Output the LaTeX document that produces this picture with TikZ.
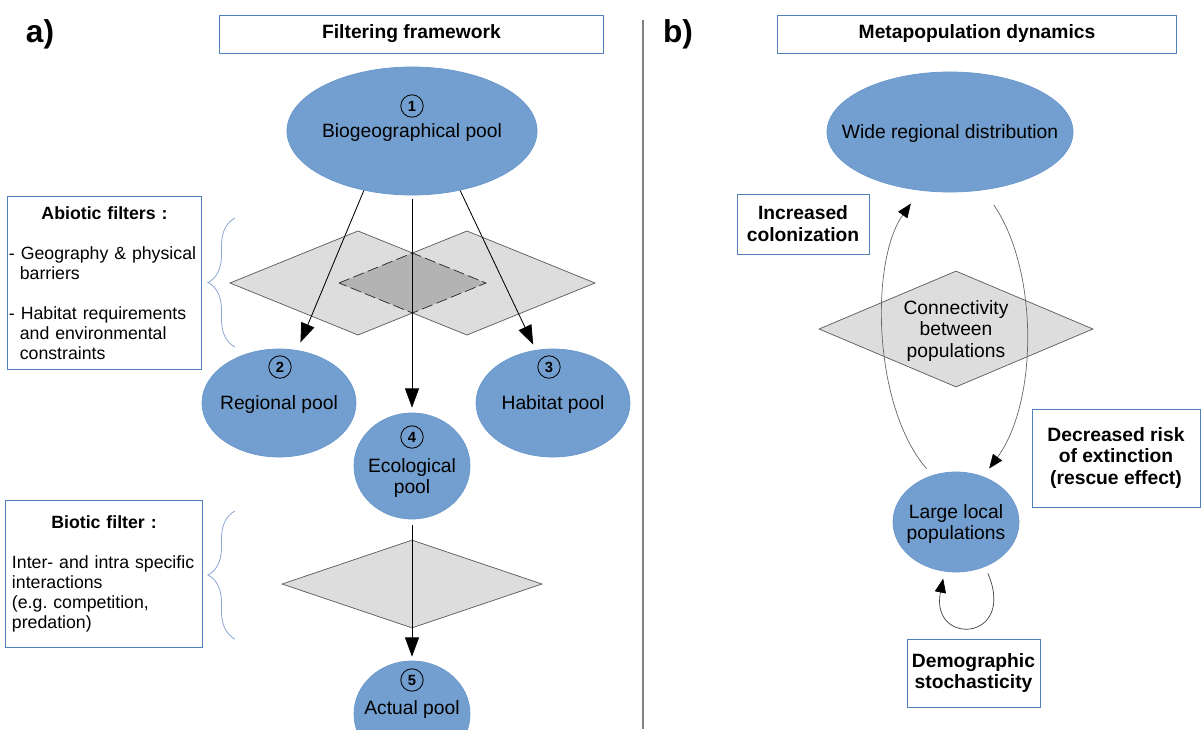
\documentclass[tikz,border=0pt]{standalone}
\usepackage{fontspec}
\setmainfont{Liberation Sans}
\usetikzlibrary{shapes.geometric,arrows.meta,decorations.pathreplacing,positioning}
\definecolor{poolblue}{HTML}{729FCF}
\definecolor{poolline}{HTML}{6A98CC}
\definecolor{boxblue}{HTML}{4F81BD}
\definecolor{filtgray}{HTML}{DDDDDD}
\definecolor{overgray}{HTML}{B3B3B3}
\definecolor{bracecol}{HTML}{8EA9D3}
\begin{document}
\begin{tikzpicture}[x=0.025cm,y=-0.025cm,>={Triangle[length=4.8mm,width=3.5mm]},
  pool/.style={ellipse,fill=poolblue,draw=poolline,line width=0.5pt,inner sep=0pt},
  num/.style={circle,draw,line width=0.6pt,inner sep=0pt,minimum size=0.56cm,font=\fontsize{10.5}{11}\selectfont\bfseries},
  txt/.style={align=center,inner sep=0pt,yshift=-0.05cm,font=\fontsize{13.7}{15.6}\selectfont},
  ttl/.style={draw=boxblue,line width=0.7pt,minimum height=0.95cm,inner sep=0pt,font=\fontsize{13.7}{15.6}\selectfont\bfseries},
  keybox/.style={draw=boxblue,line width=0.7pt,align=center,inner sep=0pt,font=\fontsize{13.7}{15.6}\selectfont\bfseries},
  infobox/.style={draw=boxblue,line width=0.7pt,align=left,inner ysep=0pt,font=\fontsize{12.6}{14.2}\selectfont},
  filt/.style={diamond,fill=filtgray,draw=black!65,line width=0.5pt,inner sep=0pt},
  bracket/.style={draw=bracecol,line width=0.6pt,decorate,decoration={brace,amplitude=0.675cm}},
  link/.style={black!60,line width=0.5pt,-{Triangle[length=3.5mm,width=2.8mm,color=black]}}]
\useasboundingbox (0,0) rectangle (1201,729);
\clip (0,0) rectangle (1201,729);

% panel a
\node[font=\fontsize{22.5}{24}\selectfont\bfseries] (pa) at (40,34) {a)};
\node[ttl,minimum width=9.575cm] (ttla) at (411.5,34) {Filtering framework};

\fill[filtgray] (230,283) -- (358,231) -- (486,283) -- (358,335) -- cycle;
\fill[filtgray] (339,283) -- (467,231) -- (595,283) -- (467,335) -- cycle;
\fill[overgray] (339,283) -- (412.5,253) -- (486,283) -- (412.5,313) -- cycle;
\draw[black!65,line width=0.5pt] (412.5,253) -- (358,231) -- (230,283) -- (358,335) -- (412.5,313)
  -- (467,335) -- (595,283) -- (467,231) -- cycle;
\draw[black!85,line width=0.5pt,dash pattern=on 8pt off 3pt] (339,283) -- (412.5,253) -- (486,283) -- (412.5,313) -- cycle;
\node[filt,minimum width=6.5cm,minimum height=2.2cm] (biof) at (412,584) {};

\node[pool,minimum width=6.25cm,minimum height=3.2cm] (bio) at (412,131) {};
\node[txt] (bio-t) at (bio) {Biogeographical pool};
\node[num] (n1) at (412,106) {1};
\node[pool,minimum width=3.85cm,minimum height=2.7cm] (reg) at (279,403) {};
\node[txt] (reg-t) at (reg) {Regional pool};
\node[num] (n2) at (280,367) {2};
\node[pool,minimum width=3.85cm,minimum height=2.7cm] (hab) at (553,403) {};
\node[txt] (hab-t) at (hab) {Habitat pool};
\node[num] (n3) at (549,367) {3};
\node[pool,minimum width=2.9cm,minimum height=2.65cm] (eco) at (412,466) {};
\node[txt] (eco-t) at (412,476) {Ecological\\pool};
\node[num] (n4) at (412,437) {4};
\node[pool,minimum width=2.9cm,minimum height=2.65cm] (act) at (412,714) {};
\node[txt] (act-t) at (412,708) {Actual pool};
\node[num] (n5) at (412,680) {5};

\draw[->,line width=0.6pt,shorten >=0.21cm] (bio.231) -- (reg.71);
\draw[->,line width=0.6pt,shorten >=0.15cm] (bio.309) -- (hab.108);
\draw[->,line width=0.6pt,shorten <=0.1cm,shorten >=0.125cm] (bio) -- (eco);
\draw[->,line width=0.6pt,shorten <=0.15cm,shorten >=0.1cm] (eco) -- (act);

\node[infobox,text width=4.775cm,inner xsep=0.025cm,minimum height=4.3cm] (abio) at (104.5,283)
  {{\centering\bfseries Abiotic filters :\par}\vspace{14.2pt}
   - Geography \& physical\\\hspace*{0.611em}barriers\par\vspace{14.2pt}
   - Habitat requirements\\\hspace*{0.611em}and environmental\\\hspace*{0.611em}constraints};
\node[infobox,text width=4.6cm,inner xsep=0.15cm,minimum height=3.65cm] (biot) at (104,574)
  {{\centering\bfseries Biotic filter :\par}\vspace{14.2pt}
   Inter- and intra specific\\interactions\\(e.g.\ competition,\\predation)};
\draw[bracket] (235,347) -- (235,218);
\draw[bracket] (235,639) -- (235,511);

\draw[gray,line width=1pt] (643,20) -- (643,729);

% panel b
\node[font=\fontsize{22.5}{24}\selectfont\bfseries] (pb) at (678,34) {b)};
\node[ttl,minimum width=9.95cm] (ttlb) at (977,34) {Metapopulation dynamics};

\node[filt,minimum width=6.85cm,minimum height=2.9cm] (conn) at (956,329) {};
\node[txt] (conn-t) at (conn) {Connectivity\\between\\populations};
\node[pool,minimum width=6.15cm,minimum height=3cm] (wide) at (950,132) {};
\node[txt] (wide-t) at (wide) {Wide regional distribution};
\node[pool,minimum width=3.15cm,minimum height=2.5cm] (lg) at (956,522) {};
\node[txt] (lg-t) at (lg) {Large local\\populations};

\draw[link,shorten <=0.22cm,shorten >=0.4cm] (lg.117) .. controls +(-60,-70) and +(-50,70) .. (wide.243);
\draw[link,shorten <=0.45cm,shorten >=0.25cm] (wide.300) .. controls +(55,80) and +(55,-75) .. (lg.59);
\draw[link,black!75,shorten <=0.18cm,shorten >=0.18cm] (lg.303) .. controls +(32,75) and +(-15,75) .. (lg.257);

\node[keybox,minimum width=3.3cm,minimum height=1.5cm] (colo) at (803,224) {Increased\\colonization};
\node[keybox,minimum width=4.2cm,minimum height=2.45cm] (decr) at (1116,458) {Decreased risk\\of extinction\\(rescue effect)};
\node[keybox,minimum width=3.325cm,minimum height=1.7cm] (demo) at (973.5,673) {Demographic\\stochasticity};
\end{tikzpicture}
\end{document}
